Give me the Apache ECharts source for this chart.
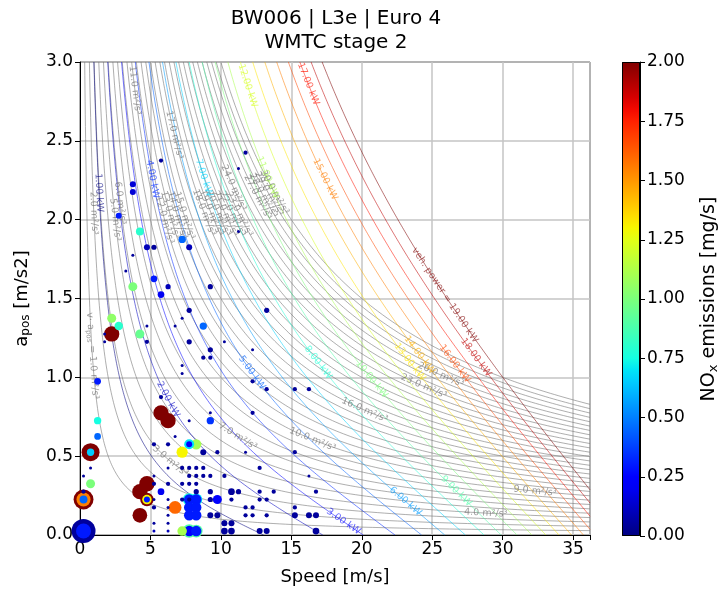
<!DOCTYPE html>
<html><head><meta charset="utf-8">
<script src="https://cdn.jsdelivr.net/npm/echarts@6/dist/echarts.min.js"></script>
<style>html,body{margin:0;padding:0;background:#fff}#c{width:721px;height:591px}</style>
</head><body><div id="c"></div>
<script>
// ---- scatter data (binned speed / positive acceleration, NOx colour, sample count -> size)
const speed = [5.75,11.75,11.25,3.75,3.75,2.75,4.25,4.75,5.25,7.25,7.75,11.25,3.75,3.25,5.25,6.25,9.25,3.75,5.75,7.75,13.25,6.75,7.25,8.75,2.25,2.75,2.25,4.25,4.75,1.75,1.75,4.75,7.75,9.25,8.75,9.25,7.25,7.25,10.25,12.25,12.25,13.25,1.25,5.75,5.75,6.25,6.75,7.75,9.25,9.25,12.25,1.25,1.25,0.75,0.75,7.75,7.75,8.25,7.25,5.25,6.25,8.75,9.75,0.75,0.75,0.25,0.25,15.25,16.25,15.25,11.75,16.25,16.75,12.75,
0.25,0.25,0.25,0.25,0.25,4.25,4.75,4.75,4.75,4.75,4.25,6.75,5.75,
5.25,5.25,5.25,6.25,6.25,6.25,5.25,5.25,5.25,6.25,6.25,6.25,6.25,
7.25,7.25,7.75,8.25,8.75,7.75,8.25,8.75,9.25,7.75,8.25,10.25,7.75,8.25,9.25,10.75,11.25,
7.75,7.75,8.25,8.25,9.25,9.75,7.75,8.25,9.25,9.75,7.75,8.25,10.25,10.75,7.75,7.75,8.25,8.25,10.25,10.75,12.75,13.25,
12.75,13.75,12.75,13.25,11.75,12.25,13.25,15.25,16.25,16.75,12.25,11.75,16.75,15.25,10.25,10.75,7.25,7.25,10.75];
const accel = [2.375,2.425,2.325,2.225,2.175,2.025,1.925,1.825,1.825,1.875,1.825,1.925,1.775,1.675,1.625,1.575,1.575,1.575,1.525,1.425,1.425,1.325,1.375,1.325,1.375,1.325,1.275,1.275,1.325,1.275,1.225,1.225,1.225,1.175,1.125,1.125,1.075,1.025,1.225,1.175,0.975,0.925,0.975,0.875,0.775,0.725,0.625,0.725,0.725,0.775,0.775,0.725,0.625,0.525,0.525,0.575,0.575,0.575,0.525,0.575,0.575,0.525,0.525,0.425,0.325,0.375,0.275,0.925,0.925,0.525,0.525,0.375,0.275,0.425,
0.225,0.225,0.225,0.025,0.025,0.275,0.325,0.225,0.225,0.225,0.125,0.175,0.275,
0.325,0.175,0.375,0.325,0.125,0.025,0.025,0.225,0.075,0.425,0.225,0.175,0.075,
0.425,0.325,0.425,0.425,0.425,0.375,0.375,0.375,0.375,0.325,0.325,0.375,0.225,0.275,0.275,0.275,0.275,
0.225,0.225,0.225,0.225,0.225,0.225,0.175,0.175,0.125,0.125,0.125,0.125,0.075,0.075,0.025,0.025,0.025,0.025,0.025,0.025,0.025,0.025,
0.275,0.275,0.225,0.225,0.175,0.175,0.125,0.125,0.125,0.125,0.125,0.125,0.025,0.175,0.075,0.075,0.225,0.025,0.225];
const nox = [0.05,0.05,0.05,0.15,0.15,0.3,0.8,0.1,0.05,0.45,0.1,0.05,0.05,0.05,0.3,0.1,0.05,1.0,0.2,0.05,0.05,0.05,0.05,0.45,1.05,0.8,2.0,0.95,0.05,0.05,0.05,0.05,0.05,0.05,0.05,0.05,0.05,0.05,0.05,0.05,0.05,0.05,0.3,0.05,2.0,2.0,0.05,0.05,0.35,0.05,0.05,0.75,0.45,2.0,0.65,0.7,0.25,1.1,1.3,0.05,0.05,0.05,0.05,0.05,1.0,0.05,0.05,0.05,0.05,0.05,0.05,0.05,0.05,0.05,
2.0,1.55,0.45,0.05,0.3,2.0,2.0,2.0,1.3,0.3,2.0,1.6,0.2,
0.05,0.05,0.05,0.05,0.05,0.1,0.1,0.05,0.05,0.05,0.05,0.05,0.05,
0.05,0.05,0.05,0.05,0.05,0.05,0.05,0.05,0.05,0.05,0.05,0.05,0.05,0.05,0.05,0.05,0.05,
0.75,0.3,0.7,0.3,0.05,0.25,0.3,0.3,0.05,0.05,0.3,0.3,0.05,0.05,0.9,0.25,0.9,0.3,0.05,0.05,0.05,0.05,
0.05,0.05,0.05,0.05,0.05,0.05,0.05,0.05,0.05,0.05,0.05,0.05,0.05,0.05,0.05,0.05,0.05,1.1,0.05];
const counts = [2,2,1,4,4,4,7,4,3,6,4,1,1,1,5,3,3,9,5,3,3,1,1,6,9,8,26,9,1,1,1,2,3,3,2,2,1,1,1,1,2,2,5,2,26,26,1,1,6,1,2,6,5,36,6,11,4,12,14,2,2,4,2,1,9,1,2,2,2,2,1,1,2,2,
44,22,7,64,25,26,26,20,10,4,24,18,5,
2,2,1,2,1,1,1,1,1,1,1,1,1,
2,2,2,2,2,2,2,2,2,2,2,2,2,3,3,5,3,
18,12,16,12,3,9,12,12,4,4,12,12,3,2,20,12,18,12,5,5,4,4,
2,2,2,2,2,2,2,4,4,4,2,2,5,2,4,4,2,10,2];

// ---- contour levels
const vaLevels = [1,2,3,4,5,6,7,8,9,10,11,12,13,14,15,16,17,18,19,20,21,22,23,24,25,26,27,28,29,30]; // m2/s3
const powerLevels = [1,2,3,4,5,6,7,8,9,10,11,12,13,14,15,16,17,18,19]; // kW
// vehicle power model (estimated): P = v*(m*a + F0 + F2*v^2)
const vehMass = 330, rollForce = 24, dragCoef = 0.31;

// contour label positions (level, speed of label centre)
const vaLabelLevel = [1,2,5,6,11,17,12,13,14,15,18,19,20,21,22,23,24,27,28,29,30,3,7,10,16,23,26,4,9];
const vaLabelSpeed = [0.88,0.98,2.5,2.85,3.9,6.7,6.0,6.4,6.9,7.4,8.8,9.3,9.8,10.3,10.8,11.3,10.9,12.6,13.0,13.4,13.8,6.4,11.2,16.5,20.2,24.4,25.6,28.8,32.3];
const kwLabelLevel = [1,2,3,4,5,6,7,8,9,10,11,12,13,14,15,16,17,18,19];
const kwLabelSpeed = [1.35,6.25,18.7,5.15,12.2,23.1,8.8,16.9,26.7,20.7,13.3,11.9,23.4,24.1,17.4,26.6,16.2,28.1,25.9];

const XMAX = 36.2, YMAX = 3.0;

function lin(x, pts){ for(let i=1;i<pts.length;i++){ if(x<=pts[i][0]){ const t=(x-pts[i-1][0])/(pts[i][0]-pts[i-1][0]); return pts[i-1][1]+t*(pts[i][1]-pts[i-1][1]);} } return pts[pts.length-1][1]; }
function jet(x){ x=Math.max(0,Math.min(1,x));
  const r=lin(x,[[0,0],[0.35,0],[0.66,1],[0.89,1],[1,0.5]]);
  const g=lin(x,[[0,0],[0.125,0],[0.375,1],[0.64,1],[0.91,0],[1,0]]);
  const b=lin(x,[[0,0.5],[0.11,1],[0.34,1],[0.65,0],[1,0]]);
  return [Math.round(r*255),Math.round(g*255),Math.round(b*255)]; }
function rgba(c,a){ return 'rgba('+c[0]+','+c[1]+','+c[2]+','+a+')'; }
const jetStops = []; for(let i=0;i<=40;i++) jetStops.push(rgba(jet(i/40),1));

function accVA(c, v){ return c/v; }
function accP(P, v){ return (1000*P/v - rollForce - dragCoef*v*v)/vehMass; }
function bisect(f, lo, hi){ for(let k=0;k<60;k++){ const m=(lo+hi)/2; if(f(m)>0) lo=m; else hi=m; } return (lo+hi)/2; }

const series = [];
vaLevels.forEach(c=>{
  const v0 = c/YMAX, pts=[];
  for(let i=0;i<=160;i++){ const v=v0*Math.pow(XMAX/v0, i/160); pts.push([v, accVA(c,v)]); }
  series.push({type:'line', data:pts, showSymbol:false, symbol:'none', silent:true, z:2,
    lineStyle:{color:'rgba(120,120,120,0.6)', width:1}, animation:false});
});
powerLevels.forEach(P=>{
  const col = jet((P-powerLevels[0])/(powerLevels[powerLevels.length-1]-powerLevels[0]));
  const vTop = bisect(v=>accP(P,v)-YMAX, 0.01, XMAX);
  const vEnd = accP(P,XMAX) > 0 ? XMAX : bisect(v=>accP(P,v), 0.01, XMAX);
  const pts=[];
  for(let i=0;i<=200;i++){ const v=vTop*Math.pow(vEnd/vTop, i/200); pts.push([v, Math.max(0,accP(P,v))]); }
  series.push({type:'line', data:pts, showSymbol:false, symbol:'none', silent:true, z:2,
    lineStyle:{color:rgba(col,0.55), width:1}, animation:false});
});

// labels
const labelItems = [];
vaLabelLevel.forEach((c,i)=>{
  const v=vaLabelSpeed[i];
  const txt = c===1 ? '{n|v· a}{s|pos}{n| = 1.0 m²/s³}' : '{n|'+c.toFixed(1)+' m²/s³}';
  labelItems.push({f:(x)=>accVA(c,x), v, txt, color:'rgba(110,110,110,0.85)'});
});
kwLabelLevel.forEach((P,i)=>{
  const col = jet((P-1)/18);
  const v=kwLabelSpeed[i];
  const txt = '{n|'+(P===19?'veh. power = ':'')+P.toFixed(2)+' kW}';
  labelItems.push({f:(x)=>accP(P,x), v, txt, color:rgba(col,0.8)});
});
const labelSeriesIndex = series.length;
series.push({type:'scatter', symbolSize:0, silent:true, z:3, animation:false,
  data: labelItems.map(l=>({value:[l.v, l.f(l.v)], label:{show:true, position:'inside', formatter:l.txt, color:l.color,
     rich:{n:{fontSize:9.5, fontFamily:'DejaVu Sans', color:l.color}, s:{fontSize:7, fontFamily:'DejaVu Sans', color:l.color, padding:[5,0,0,0]}}}}))
});

// scatter
const pts = speed.map((v,i)=>[v, accel[i], nox[i], counts[i]]).sort((p,q)=>q[3]-p[3]);
const scatterIndex = series.length;
series.push({type:'scatter', data:pts, z:4, animation:false, symbolSize:d=>3*Math.sqrt(d[3]), itemStyle:{opacity:1}});

// colorbar
series.push({type:'bar', xAxisIndex:1, yAxisIndex:1, data:[2], barWidth:'100%', silent:true, animation:false,
  itemStyle:{borderColor:'#000', borderWidth:1, color:{type:'linear', x:0, y:1, x2:0, y2:0,
    colorStops: jetStops.map((c,i)=>({offset:i/(jetStops.length-1), color:c}))}}});

const font = 'DejaVu Sans';
const chart = echarts.init(document.getElementById('c'), null, {renderer:'canvas'});
const option = {
  animation:false,
  backgroundColor:'#fff',
  graphic:[
    {type:'text', x:336, y:19, style:{text:'BW006 | L3e | Euro 4', font:'20px DejaVu Sans', fill:'#000', textAlign:'center', textVerticalAlign:'middle'}},
    {type:'text', x:336, y:43, style:{text:'WMTC stage 2', font:'20px DejaVu Sans', fill:'#000', textAlign:'center', textVerticalAlign:'middle'}}
  ],
  grid:[{left:80, top:62, width:510, height:474, show:true, borderColor:'#000', borderWidth:1},
        {left:622, top:62, width:23, height:474}],
  xAxis:[{type:'value', gridIndex:0, min:0, max:XMAX, interval:5,
     axisLine:{show:true, lineStyle:{color:'#000'}}, axisTick:{show:true, length:5, lineStyle:{color:'#000'}},
     axisLabel:{color:'#000', fontSize:17, fontFamily:font, margin:6, formatter:v=>Math.abs(v/5-Math.round(v/5))<1e-6?String(Math.round(v)):''},
     splitLine:{show:true, lineStyle:{color:'#c4c4c4', width:1.5}},
     name:'Speed [m/s]', nameLocation:'middle', nameGap:33, nameTextStyle:{color:'#000', fontSize:18, fontFamily:font}},
    {type:'category', gridIndex:1, data:['c'], show:false}],
  yAxis:[{type:'value', gridIndex:0, min:0, max:YMAX, interval:0.5,
     axisLine:{show:true, lineStyle:{color:'#000'}}, axisTick:{show:true, length:5, lineStyle:{color:'#000'}},
     axisLabel:{color:'#000', fontSize:17, fontFamily:font, margin:7, formatter:v=>v.toFixed(1)},
     splitLine:{show:true, lineStyle:{color:'#c4c4c4', width:1.5}},
     name:'{a|a}{s|pos}{a| [m/s2]}', nameLocation:'middle', nameGap:48,
     nameTextStyle:{rich:{a:{color:'#000', fontSize:18, fontFamily:font}, s:{color:'#000', fontSize:12, fontFamily:font, padding:[8,0,0,0]}}}},
    {type:'value', gridIndex:1, position:'right', min:0, max:2, interval:0.25,
     axisLine:{show:true, lineStyle:{color:'#000'}}, axisTick:{show:true, length:5, lineStyle:{color:'#000'}},
     axisLabel:{color:'#000', fontSize:17, fontFamily:font, margin:7, formatter:v=>v.toFixed(2)},
     splitLine:{show:false},
     name:'{a|NO}{s|x}{a| emissions [mg/s]}', nameLocation:'middle', nameGap:59,
     nameTextStyle:{rich:{a:{color:'#000', fontSize:19, fontFamily:font}, s:{color:'#000', fontSize:13, fontFamily:font, padding:[8,0,0,0]}}}}],
  visualMap:[{type:'continuous', show:false, min:0, max:2, dimension:2, seriesIndex:[scatterIndex], inRange:{color:jetStops}}],
  series: series
};
chart.setOption(option);

// rotate contour labels along their curves
const lab = option.series[labelSeriesIndex];
lab.data.forEach((d,i)=>{
  const L = labelItems[i], h=0.02;
  const p1 = chart.convertToPixel({gridIndex:0}, [L.v-h, L.f(L.v-h)]);
  const p2 = chart.convertToPixel({gridIndex:0}, [L.v+h, L.f(L.v+h)]);
  d.label.rotate = -Math.atan2(p2[1]-p1[1], p2[0]-p1[0])*180/Math.PI;
});
chart.setOption({series: option.series});
</script></body></html>
